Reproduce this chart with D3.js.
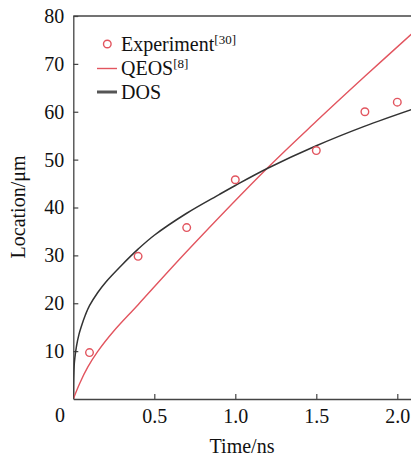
<!DOCTYPE html>
<html>
<head>
<meta charset="utf-8">
<script src="https://cdn.jsdelivr.net/npm/d3@7"></script>
<style>
  html, body { margin: 0; padding: 0; background: #fff; }
  svg { display: block; }
</style>
</head>
<body>
<script>
// ---- data ----
const expTime = [0.1, 0.4, 0.7, 1.0, 1.5, 1.8, 2.0];
const expLoc  = [9.7, 29.8, 35.8, 45.8, 51.9, 60.0, 62.0];

const qeosTime = [0, 0.04, 0.09, 0.15, 0.25, 0.4, 0.7, 1.2, 1.5, 1.8, 2.1];
const qeosLoc  = [0, 3.3, 6.7, 9.9, 14.2, 19.7, 30.8, 48.3, 58.0, 67.4, 76.6];

const dosTime = [0, 0.001, 0.003, 0.006, 0.01, 0.02, 0.035, 0.05, 0.075, 0.1, 0.15, 0.2, 0.3, 0.4, 0.5, 0.7, 0.9, 1.0, 1.2, 1.5, 1.8, 2.1];
const dosLoc  = [0, 3.5, 5.5, 7.3, 8.7, 11.1, 13.5, 15.2, 17.6, 19.5, 22.2, 24.4, 28.0, 31.3, 34.2, 38.8, 42.7, 44.6, 48.2, 52.9, 57.0, 60.6];

const xTicks = [0.5, 1.0, 1.5, 2.0];
const yTicks = [10, 20, 30, 40, 50, 60, 70, 80];

const legendLabels = [
  { name: "Experiment", sup: "[30]" },
  { name: "QEOS", sup: "[8]" },
  { name: "DOS", sup: "" }
];

// ---- drawing ----
const W = 411, H = 459;
const red = "#e2555f", dark = "#333333";
const FONT = "Liberation Serif";

const svg = d3.select("body").append("svg").attr("width", W).attr("height", H)
  .attr("font-family", FONT);

const x = d3.scaleLinear().domain([0, 2.0]).range([73.3, 397.3]);
const y = d3.scaleLinear().domain([0, 80]).range([399, 16]);
const xEnd = x.invert(W + 5);

// frame top line
svg.append("line")
  .attr("x1", x(0)).attr("x2", W + 5)
  .attr("y1", y(80)).attr("y2", y(80))
  .attr("stroke", "#444").attr("stroke-width", 1.3);

// x axis
const xAxis = svg.append("g").attr("transform", `translate(0,${y(0)})`)
  .call(d3.axisBottom(d3.scaleLinear().domain([0, xEnd]).range([x(0), W + 5]))
    .tickValues(xTicks).tickFormat(d3.format(".1f"))
    .tickSizeInner(-5).tickSizeOuter(0).tickPadding(10));
// y axis
const yAxis = svg.append("g").attr("transform", `translate(${x(0)},0)`)
  .call(d3.axisLeft(y).tickValues(yTicks).tickFormat(d3.format("d"))
    .tickSizeInner(-5).tickSizeOuter(0).tickPadding(9));

[xAxis, yAxis].forEach(g => {
  g.attr("font-family", FONT).attr("font-size", 20);
  g.select(".domain").attr("stroke", "#444").attr("stroke-width", 1.3);
  g.selectAll(".tick line").attr("stroke", "#444").attr("stroke-width", 1.2);
  g.selectAll(".tick text").attr("font-size", 20).attr("fill", "#111")
    .attr("font-family", FONT);
});

function txt(sel) {
  return sel.attr("font-family", FONT).attr("fill", "#111");
}

// origin label
txt(svg.append("text")).attr("x", 60).attr("y", 422).attr("text-anchor", "middle")
  .attr("font-size", 20).text("0");

// axis titles
txt(svg.append("text")).attr("x", 242).attr("y", 453).attr("text-anchor", "middle")
  .attr("font-size", 20).text("Time/ns");
txt(svg.append("text")).attr("transform", `translate(25,207) rotate(-90)`)
  .attr("text-anchor", "middle").attr("font-size", 20).text("Location/μm");

// clip
svg.append("clipPath").attr("id", "clip").append("rect")
  .attr("x", x(0)).attr("y", y(80)).attr("width", W).attr("height", y(0) - y(80));

const line = d3.line().x(d => x(d[0])).y(d => y(d[1])).curve(d3.curveCatmullRom.alpha(0.5));

svg.append("path").datum(qeosTime.map((t, i) => [t, qeosLoc[i]]))
  .attr("clip-path", "url(#clip)")
  .attr("d", line).attr("fill", "none").attr("stroke", red).attr("stroke-width", 1.4);

svg.append("path").datum(dosTime.map((t, i) => [t, dosLoc[i]]))
  .attr("clip-path", "url(#clip)")
  .attr("d", line).attr("fill", "none").attr("stroke", dark).attr("stroke-width", 1.5);

svg.append("g").selectAll("circle").data(expTime.map((t, i) => [t, expLoc[i]]))
  .join("circle")
  .attr("cx", d => x(d[0])).attr("cy", d => y(d[1])).attr("r", 3.8)
  .attr("fill", "none").attr("stroke", red).attr("stroke-width", 1.4);

// legend
const lg = svg.append("g");
const rowY = [44, 68.5, 92];
lg.append("circle").attr("cx", 107.3).attr("cy", rowY[0]).attr("r", 3.8)
  .attr("fill", "none").attr("stroke", red).attr("stroke-width", 1.4);
lg.append("line").attr("x1", 97).attr("x2", 117).attr("y1", rowY[1]).attr("y2", rowY[1])
  .attr("stroke", red).attr("stroke-width", 1.4);
lg.append("line").attr("x1", 97).attr("x2", 117).attr("y1", rowY[2]).attr("y2", rowY[2])
  .attr("stroke", "#555").attr("stroke-width", 3);

legendLabels.forEach((l, i) => {
  const t = txt(lg.append("text")).attr("x", 121).attr("y", rowY[i] + 6.5).attr("font-size", 20);
  t.append("tspan").text(l.name);
  if (l.sup) t.append("tspan").attr("dy", -7).attr("font-size", 13).text(l.sup);
});
</script>
</body>
</html>
